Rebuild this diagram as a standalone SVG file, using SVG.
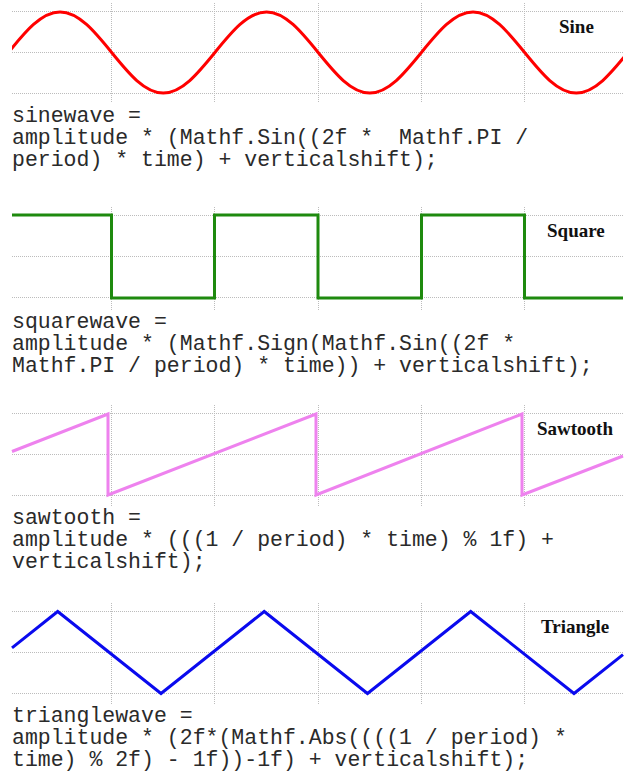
<svg xmlns="http://www.w3.org/2000/svg" width="632" height="776" viewBox="0 0 632 776">
<style>
.grid{stroke:#bcbcbc;stroke-width:1;stroke-dasharray:1 1;fill:none}
.wave{fill:none;stroke-width:3;stroke-linejoin:miter;stroke-linecap:butt}
.label{font-family:"Liberation Serif","Times New Roman",serif;font-weight:bold;font-size:19px;fill:#111}
.code{font-family:"Liberation Mono","Courier New",monospace;font-size:21.5px;fill:#2a2a2a}
</style>
<defs>
<clipPath id="clipSine"><rect x="12" y="0" width="611" height="110"/></clipPath>
</defs>
<rect width="632" height="776" fill="#fff"/>

<g id="sine">
<g class="grid">
<path d="M12,11.5H623M12,52.5H623M12,93.5H623"/>
<path d="M111.5,3V102M214.5,3V102M318.5,3V102M421.5,3V102M524.5,3V102"/>
</g>
<path class="wave" stroke="#ff0000" clip-path="url(#clipSine)" d="M8.4,52.5c16.84,-20.75 32.94,-40.5 51.625,-40.5c18.69,0 34.79,19.75 51.625,40.5c16.84,20.75 32.94,40.5 51.625,40.5c18.69,0 34.79,-19.75 51.625,-40.5c16.84,-20.75 32.94,-40.5 51.625,-40.5c18.69,0 34.79,19.75 51.625,40.5c16.84,20.75 32.94,40.5 51.625,40.5c18.69,0 34.79,-19.75 51.625,-40.5c16.84,-20.75 32.94,-40.5 51.625,-40.5c18.69,0 34.79,19.75 51.625,40.5c16.84,20.75 32.94,40.5 51.625,40.5c18.69,0 34.79,-19.75 51.625,-40.5"/>
<text class="label" x="559" y="33">Sine</text>
<text class="code" xml:space="preserve"><tspan x="12" y="122">sinewave =</tspan><tspan x="12" y="144">amplitude * (Mathf.Sin((2f *  Mathf.PI /</tspan><tspan x="12" y="166">period) * time) + verticalshift);</tspan></text>
</g>

<g id="square">
<g class="grid">
<path d="M12,215.5H623M12,256.5H623M12,297.5H623"/>
<path d="M111.5,207V310M214.5,207V310M318.5,207V310M421.5,207V310M524.5,207V310"/>
</g>
<path class="wave" stroke="#1e8a0e" d="M12,215H111.5V298H214.5V215H318V298H421.5V215H524.5V298H623"/>
<text class="label" x="547" y="237">Square</text>
<text class="code" xml:space="preserve"><tspan x="12" y="328">squarewave =</tspan><tspan x="12" y="350">amplitude * (Mathf.Sign(Mathf.Sin((2f *</tspan><tspan x="12" y="372">Mathf.PI / period) * time)) + verticalshift);</tspan></text>
</g>

<g id="sawtooth">
<g class="grid">
<path d="M12,413.5H623M12,454.5H623M12,495.5H623"/>
<path d="M111.5,405V507M214.5,405V507M318.5,405V507M421.5,405V507M524.5,405V507"/>
</g>
<path class="wave" stroke="#ee82ee" d="M12,451.5L108,414V495L316,414V495L522,414V495L623,456"/>
<text class="label" x="537" y="435">Sawtooth</text>
<text class="code" xml:space="preserve"><tspan x="12" y="524">sawtooth =</tspan><tspan x="12" y="546">amplitude * (((1 / period) * time) % 1f) +</tspan><tspan x="12" y="568">verticalshift);</tspan></text>
</g>

<g id="triangle">
<g class="grid">
<path d="M12,611.5H623M12,652.5H623M12,693.5H623"/>
<path d="M111.5,603V705M214.5,603V705M318.5,603V705M421.5,603V705M524.5,603V705"/>
</g>
<path class="wave" stroke="#0a0aee" d="M12,647.8L57.7,611.5L161,693.5L264.2,611.5L367.5,693.5L470.7,611.5L574,693.5L623,654.6"/>
<text class="label" x="541" y="633">Triangle</text>
<text class="code" xml:space="preserve"><tspan x="12" y="722">trianglewave =</tspan><tspan x="12" y="744">amplitude * (2f*(Mathf.Abs((((1 / period) *</tspan><tspan x="12" y="766">time) % 2f) - 1f))-1f) + verticalshift);</tspan></text>
</g>
</svg>
